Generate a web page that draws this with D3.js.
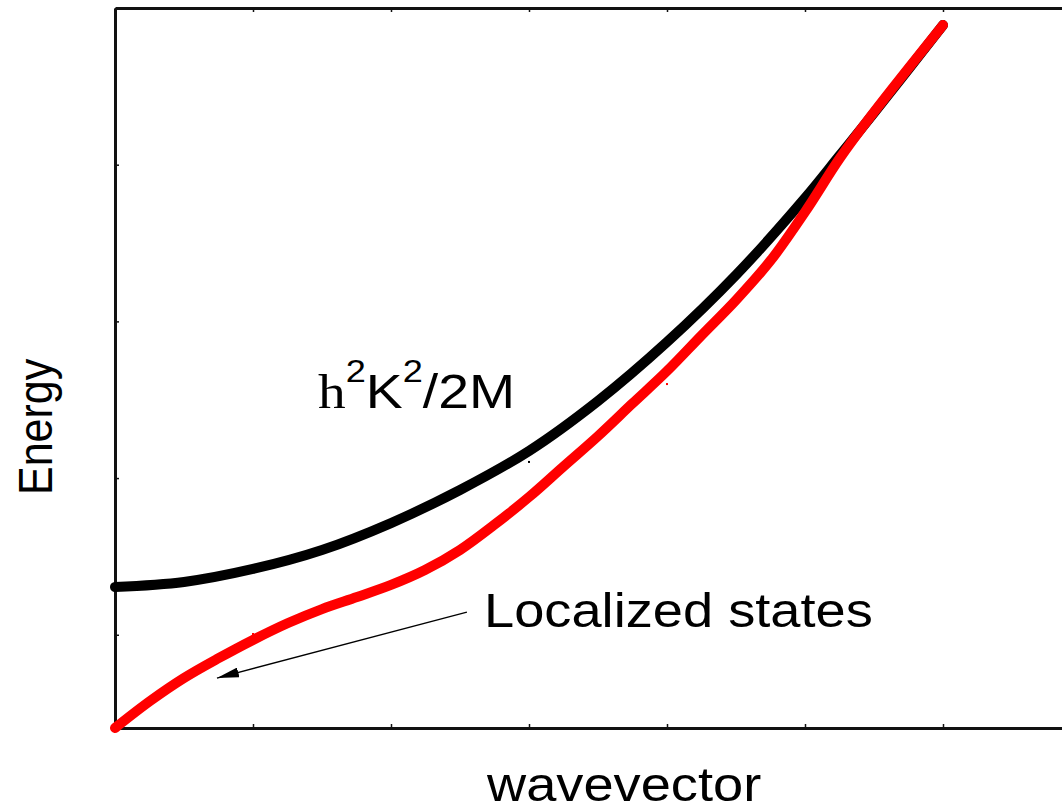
<!DOCTYPE html>
<html>
<head>
<meta charset="utf-8">
<script src="https://cdn.jsdelivr.net/npm/d3@7"></script>
<style>
  html, body { margin: 0; padding: 0; background: #fff; }
  svg { display: block; }
</style>
</head>
<body>
<svg id="chart" width="1062" height="810"></svg>
<script>
// ---- data (wavevector in tick units, energy in tick units) ----
const xTicks = [0, 1, 2, 3, 4, 5, 6, 7];
const yTicks = [0, 1, 2, 3];
const freeK = [0, 0.5, 1, 1.5, 2, 2.5, 3, 3.5, 4, 4.5, 5, 5.254, 5.5, 6];
const freeE = [0.305, 0.337, 0.420, 0.541, 0.713, 0.924, 1.173, 1.492, 1.868, 2.296, 2.787, 3.062, 3.330, 3.891];
const locK = [0, 0.254, 0.5, 0.754, 1, 1.254, 1.5, 1.754, 2, 2.246, 2.5, 2.746, 3, 3.246, 3.5, 3.746, 4, 4.246, 4.5, 4.754, 5, 5.254, 5.5, 6];
const locE = [-0.595, -0.423, -0.276, -0.148, -0.033, 0.075, 0.164, 0.241, 0.318, 0.413, 0.541, 0.700, 0.879, 1.071, 1.268, 1.473, 1.683, 1.907, 2.136, 2.392, 2.698, 3.043, 3.336, 3.891];
const dotRedK = [1, 2, 4];
const dotRedE = [0.005, 0.298, 1.600];
const dotBlackK = [3];
const dotBlackE = [1.103];
const labelLoc = "Localized states";
const xLabel = "wavevector";
const yLabel = "Energy";

const svg = d3.select("#chart");
const x = d3.scaleLinear().domain([0, 7]).range([115, 1081]);
const y = d3.scaleLinear().domain([-0.595, 4.0]).range([728, 8]);

// axes / frame
function styleAxis(g) {
  g.selectAll(".domain").attr("stroke", "#111").attr("stroke-width", 3);
  g.selectAll(".tick line").attr("stroke", "#111").attr("stroke-width", 1.5);
  g.selectAll(".tick text").remove();
}
svg.append("g").attr("transform", `translate(0,${y(-0.595)})`)
  .call(d3.axisBottom(x).tickValues(xTicks).tickSize(-4).tickSizeOuter(0).tickFormat(""))
  .call(styleAxis);
svg.append("g").attr("transform", `translate(0,${y(4.0)})`)
  .call(d3.axisTop(x).tickValues(xTicks).tickSize(-4).tickSizeOuter(0).tickFormat(""))
  .call(styleAxis);
svg.append("g").attr("transform", `translate(${x(0)},0)`)
  .call(d3.axisLeft(y).tickValues(yTicks).tickSize(-4).tickSizeOuter(0).tickFormat(""))
  .call(styleAxis);

const line = d3.line().x(d => x(d[0])).y(d => y(d[1])).curve(d3.curveCatmullRom.alpha(0.5));

svg.append("path")
  .datum(freeK.map((k, i) => [k, freeE[i]]))
  .attr("d", line).attr("fill", "none").attr("stroke", "#000")
  .attr("stroke-width", 10).attr("stroke-linecap", "round");

svg.append("path")
  .datum(locK.map((k, i) => [k, locE[i]]))
  .attr("d", line).attr("fill", "none").attr("stroke", "#ff0000")
  .attr("stroke-width", 10).attr("stroke-linecap", "round");

// small stray markers
svg.selectAll(".dr").data(dotRedK).enter().append("rect")
  .attr("x", (d) => x(d) - 1).attr("y", (d, i) => y(dotRedE[i]) - 1)
  .attr("width", 2).attr("height", 2).attr("fill", "#ff0000");
svg.selectAll(".db").data(dotBlackK).enter().append("rect")
  .attr("x", (d) => x(d) - 1).attr("y", (d, i) => y(dotBlackE[i]) - 1)
  .attr("width", 2).attr("height", 2).attr("fill", "#000");

// arrow
svg.append("defs").append("marker")
  .attr("id", "ah").attr("viewBox", "0 0 22 10").attr("refX", 22).attr("refY", 5)
  .attr("markerWidth", 22).attr("markerHeight", 10).attr("markerUnits", "userSpaceOnUse")
  .attr("orient", "auto")
  .append("path").attr("d", "M0,0 L22,5 L0,10 Z").attr("fill", "#000");
svg.append("line")
  .attr("x1", x(2.55)).attr("y1", y(0.145))
  .attr("x2", x(0.739)).attr("y2", y(-0.276))
  .attr("stroke", "#000").attr("stroke-width", 1.3).attr("marker-end", "url(#ah)");

// labels
const sans = "Arial, 'Liberation Sans', Helvetica, sans-serif";
const sx = 1.13;
const t1 = svg.append("text").attr("transform", `translate(318,408) scale(${sx},1)`)
  .attr("font-size", 49).attr("font-family", sans).attr("fill", "#000");
t1.append("tspan").attr("font-family", "'Times New Roman', 'Liberation Serif', serif").text("h");
t1.append("tspan").attr("font-size", 32).attr("dy", -26).text("2");
t1.append("tspan").attr("dy", 26).text("K");
t1.append("tspan").attr("font-size", 32).attr("dy", -26).text("2");
t1.append("tspan").attr("dy", 26).text("/2M");

svg.append("text").attr("transform", `translate(484,627) scale(${sx},1)`)
  .attr("font-size", 48).attr("font-family", sans).text(labelLoc);

svg.append("text").attr("transform", `translate(487,801) scale(${sx},1)`)
  .attr("font-size", 48).attr("font-family", sans).text(xLabel);

svg.append("text").attr("transform", `translate(52,495) rotate(-90) scale(1,${sx})`)
  .attr("font-size", 43).attr("font-family", sans).text(yLabel);
</script>
</body>
</html>
